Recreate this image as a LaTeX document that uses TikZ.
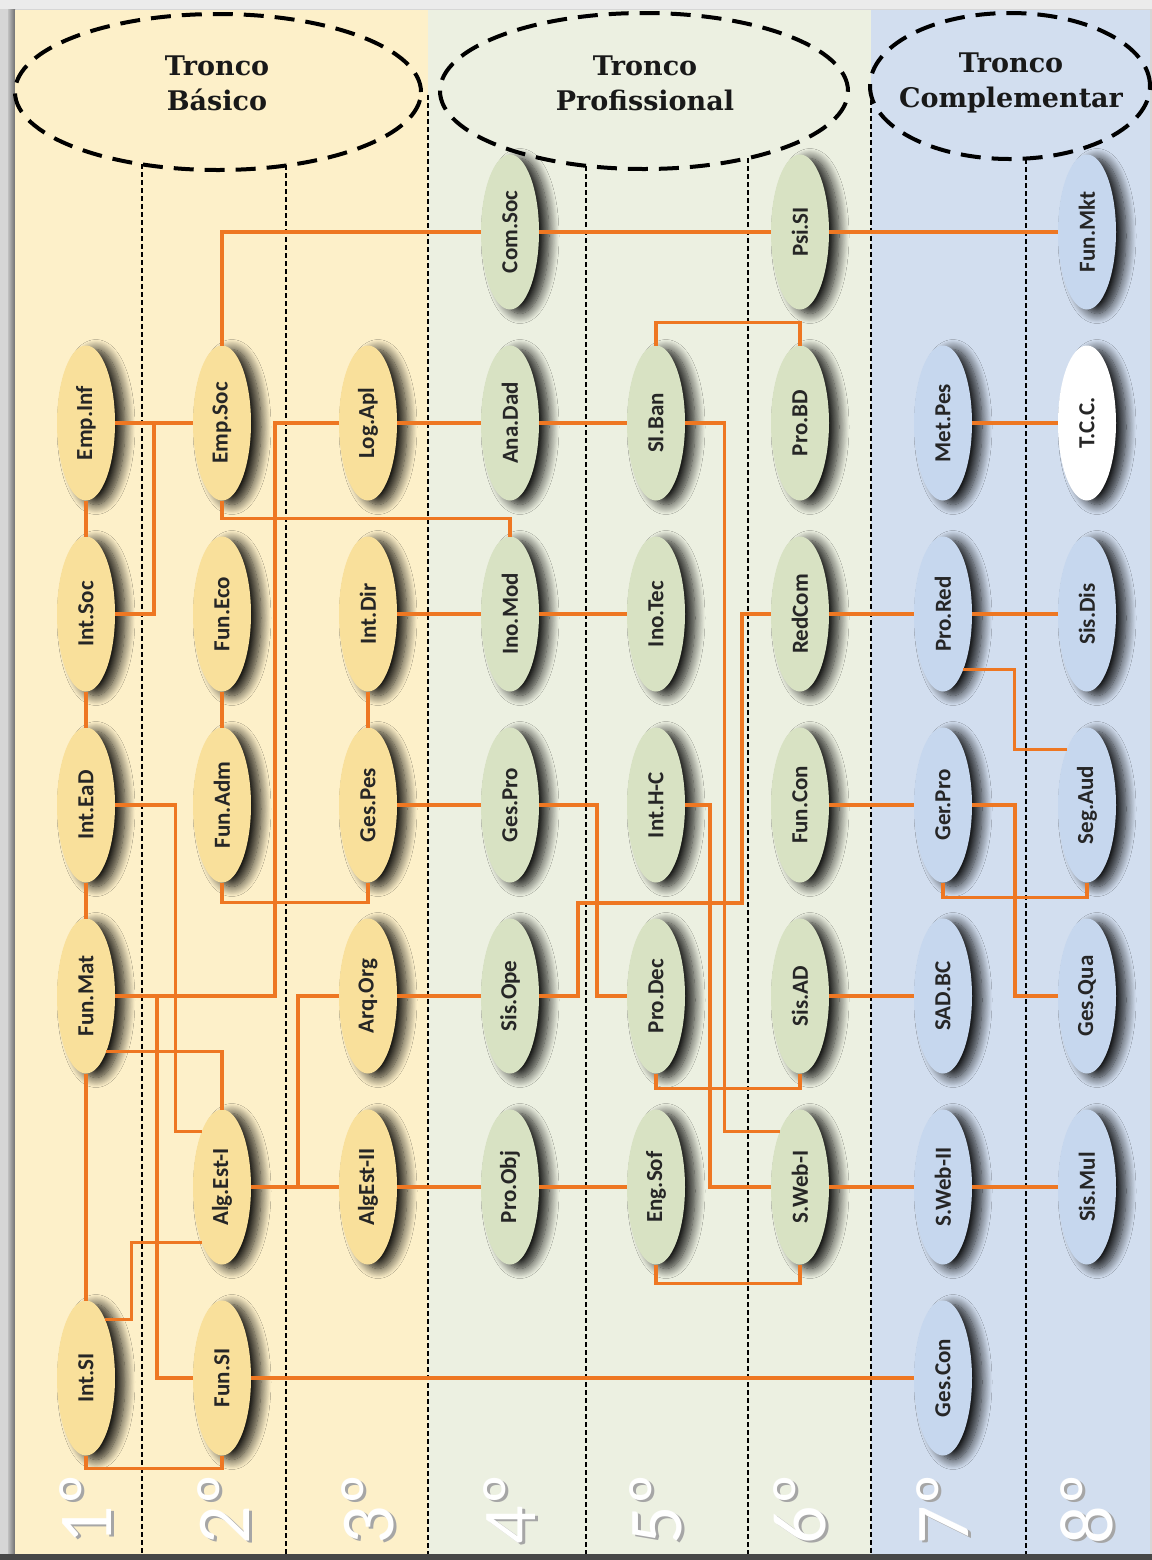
\documentclass[tikz,border=0pt]{standalone}
\usepackage{fontspec}
\setmainfont{Carlito}
\newfontfamily\hdrfont{DejaVu Serif}
\usetikzlibrary{shapes.geometric,calc,shadows.blur}
\definecolor{bandY}{HTML}{FDF0C9}
\definecolor{bandG}{HTML}{ECF0E1}
\definecolor{bandB}{HTML}{D2DEEF}
\definecolor{nodeY}{HTML}{F9E09B}
\definecolor{nodeG}{HTML}{D8E2C3}
\definecolor{nodeB}{HTML}{C6D7EE}
\definecolor{lineO}{HTML}{EE7722}
\definecolor{frameL}{HTML}{D6D6D6}
\definecolor{frameD}{HTML}{6E6E6E}
\newcommand\vt[1]{\rotatebox{90}{#1}}
\tikzset{
  course/.style={ellipse, minimum width=29pt, minimum height=77.5pt, inner sep=0pt, outer sep=0pt,
    font=\bfseries\fontsize{11.5}{11.5}\selectfont, text=black!85,
    blur shadow={shadow xshift=5pt, shadow yshift=-2pt, shadow opacity=90, shadow blur radius=5pt, shadow blur steps=12}},
  basic/.style={course, fill=nodeY},
  prof/.style={course, fill=nodeG},
  comp/.style={course, fill=nodeB},
  conn/.style={draw=lineO, line width=1.7pt},
  sep/.style={draw=black, line width=0.6pt, dash pattern=on 2.5pt off 1.5pt},
  hdr/.style={ellipse, draw=black, line width=2pt, dash pattern=on 10pt off 5.5pt, inner sep=0pt},
  hdrtext/.style={font=\hdrfont\bfseries\fontsize{13.5}{17.5}\selectfont, align=center, text=black!90},
  deg/.style={font=\fontsize{38}{38}\selectfont, rotate=90, inner sep=0pt},
}
\begin{document}
\begin{tikzpicture}[x=0.5pt,y=-0.5pt]
\useasboundingbox (0,0) rectangle (1152,1560);
% frame
\fill[frameL] (0,0) rectangle (1152,1560);
\fill[black!8] (0,0) rectangle (1152,9);
\shade[left color=black!25, right color=frameD] (8,9) rectangle (15,1560);
\fill[bandY] (15,10) rectangle (428,1554);
\fill[bandG] (428,10) rectangle (871,1554);
\fill[bandB] (871,10) rectangle (1150,1554);
\fill[black!72] (0,1554) rectangle (1152,1560);
% separators
\draw[sep] (142,164) -- (142,1554);
\draw[sep] (286,165) -- (286,1554);
\draw[sep] (428,95) -- (428,1554);
\draw[sep] (586,166) -- (586,1554);
\draw[sep] (748,158) -- (748,1554);
\draw[sep] (871,100) -- (871,1554);
\draw[sep] (1026,159) -- (1026,1554);
% headers
\node[hdr, minimum width=203pt, minimum height=78pt] (hB) at (218,92) {};
\node[hdr, minimum width=204pt, minimum height=78pt] (hP) at (644,91) {};
\node[hdr, minimum width=140pt, minimum height=73pt] (hC) at (1010,86) {};
\node[hdrtext] (tB) at (217,83) {Tronco\\Básico};
\node[hdrtext] (tP) at (645,83) {Tronco\\Profissional};
\node[hdrtext] (tC) at (1011,83) {Tronco\\Complementar};
% semester labels
\foreach \n/\x in {1/86,2/224,3/368,4/510,5/656,6/800,7/943,8/1087}{
  \node[deg, text=black!35] (ds\n) at (\x+3,1511) {\n º};
  \node[deg, text=white] (d\n) at (\x,1509) {\n º};
}
% nodes: Tronco Basico
\node[basic] (EmpInf) at (86,423) {\vt{Emp.Inf}};
\node[basic] (IntSoc) at (86,614) {\vt{Int.Soc}};
\node[basic] (IntEaD) at (86,805) {\vt{Int.EaD}};
\node[basic] (FunMat) at (86,996) {\vt{Fun.Mat}};
\node[basic] (IntSI) at (86,1378) {\vt{Int.SI}};
\node[basic] (EmpSoc) at (222,423) {\vt{Emp.Soc}};
\node[basic] (FunEco) at (222,614) {\vt{Fun.Eco}};
\node[basic] (FunAdm) at (222,805) {\vt{Fun.Adm}};
\node[basic] (AlgEstI) at (222,1187) {\vt{Alg.Est-I}};
\node[basic] (FunSI) at (222,1378) {\vt{Fun.SI}};
\node[basic] (LogApl) at (368,423) {\vt{Log.Apl}};
\node[basic] (IntDir) at (368,614) {\vt{Int.Dir}};
\node[basic] (GesPes) at (368,805) {\vt{Ges.Pes}};
\node[basic] (ArqOrg) at (368,996) {\vt{Arq.Org}};
\node[basic] (AlgEstII) at (368,1187) {\vt{AlgEst-II}};
% Tronco Profissional
\node[prof] (ComSoc) at (510,232) {\vt{Com.Soc}};
\node[prof] (AnaDad) at (510,423) {\vt{Ana.Dad}};
\node[prof] (InoMod) at (510,614) {\vt{Ino.Mod}};
\node[prof] (GesPro) at (510,805) {\vt{Ges.Pro}};
\node[prof] (SisOpe) at (510,996) {\vt{Sis.Ope}};
\node[prof] (ProObj) at (510,1187) {\vt{Pro.Obj}};
\node[prof] (SIBan) at (656,423) {\vt{SI.Ban}};
\node[prof] (InoTec) at (656,614) {\vt{Ino.Tec}};
\node[prof] (IntHC) at (656,805) {\vt{Int.H-C}};
\node[prof] (ProDec) at (656,996) {\vt{Pro.Dec}};
\node[prof] (EngSof) at (656,1187) {\vt{Eng.Sof}};
\node[prof] (PsiSI) at (800,232) {\vt{Psi.SI}};
\node[prof] (ProBD) at (800,423) {\vt{Pro.BD}};
\node[prof] (RedCom) at (800,614) {\vt{RedCom}};
\node[prof] (FunCon) at (800,805) {\vt{Fun.Con}};
\node[prof] (SisAD) at (800,996) {\vt{Sis.AD}};
\node[prof] (SWebI) at (800,1187) {\vt{S.Web-I}};
% Tronco Complementar
\node[comp] (MetPes) at (943,423) {\vt{Met.Pes}};
\node[comp] (ProRed) at (943,614) {\vt{Pro.Red}};
\node[comp] (GerPro) at (943,805) {\vt{Ger.Pro}};
\node[comp] (SADBC) at (943,996) {\vt{SAD.BC}};
\node[comp] (SWebII) at (943,1187) {\vt{S.Web-II}};
\node[comp] (GesCon) at (943,1378) {\vt{Ges.Con}};
\node[comp] (FunMkt) at (1087,232) {\vt{Fun.Mkt}};
\node[comp, fill=white] (TCC) at (1087,423) {\vt{T.C.C.}};
\node[comp] (SisDis) at (1087,614) {\vt{Sis.Dis}};
\node[comp] (SegAud) at (1087,805) {\vt{Seg.Aud}};
\node[comp] (GesQua) at (1087,996) {\vt{Ges.Qua}};
\node[comp] (SisMul) at (1087,1187) {\vt{Sis.Mul}};
% connectors
\draw[conn] (EmpSoc.north) |- (ComSoc.west);
\draw[conn] (ComSoc.east) -- (PsiSI.west);
\draw[conn] (PsiSI.east) -- (FunMkt.west);
\draw[conn] (EmpInf.east) -- (EmpSoc.west);
\draw[conn] (IntSoc.east) -| ($(EmpInf.east)!.5!(EmpSoc.west)$);
\draw[conn] (EmpSoc.south) -- ++(0,18) -| (InoMod.north);
\draw[conn] (LogApl.west) -| (275,996) -- (FunMat.east);
\draw[conn] (LogApl.east) -- (AnaDad.west);
\draw[conn] (AnaDad.east) -- (SIBan.west);
\draw[conn] (SIBan.east) -| ($(SWebI.110)+(-55,0)$) -- (SWebI.110);
\draw[conn] (SIBan.north) -- ++(0,-23) -| (ProBD.north);
\draw[conn] (IntDir.east) -- (InoMod.west);
\draw[conn] (InoMod.east) -- (InoTec.west);
\draw[conn] (EmpInf.south) -- (IntSoc.north);
\draw[conn] (IntSoc.south) -- (IntEaD.north);
\draw[conn] (IntEaD.south) -- (FunMat.north);
\draw[conn] (FunMat.south) -- (IntSI.north);
\draw[conn] (FunEco.south) -- (FunAdm.north);
\draw[conn] (IntDir.south) -- (GesPes.north);
\draw[conn] (FunAdm.south) -- ++(0,20) -| (GesPes.south);
\draw[conn] (IntEaD.east) -| ($(AlgEstI.110)+(-26,0)$) -- (AlgEstI.110);
\draw[conn] (GesPes.east) -- (GesPro.west);
\draw[conn] (GesPro.east) -| (597,996) -- (ProDec.west);
\draw[conn] (IntHC.east) -| (710,1187) -- (SWebI.west);
\draw[conn] (ProDec.south) -- ++(0,15) -| (SisAD.south);
\draw[conn] (EngSof.south) -- ++(0,19) -| (SWebI.south);
\draw[conn] (SisOpe.east) -| (578,903) -| (742,614) -- (RedCom.west);
\draw[conn] (RedCom.east) -- (ProRed.west);
\draw[conn] (ProRed.east) -- (SisDis.west);
\draw[conn] (ProRed.-70) -| ($(SegAud.110)+(-52,0)$) -- (SegAud.110);
\draw[conn] (FunCon.east) -- (GerPro.west);
\draw[conn] (GerPro.east) -| (1015,996) -- (GesQua.west);
\draw[conn] (GerPro.south) -- ++(0,15) -| (SegAud.south);
\draw[conn] (ArqOrg.west) -| (298,1187);
\draw[conn] (AlgEstI.east) -- (AlgEstII.west);
\draw[conn] (ArqOrg.east) -- (SisOpe.west);
\draw[conn] (SisAD.east) -- (SADBC.west);
\draw[conn] (AlgEstII.east) -- (ProObj.west);
\draw[conn] (ProObj.east) -- (EngSof.west);
\draw[conn] (SWebI.east) -- (SWebII.west);
\draw[conn] (SWebII.east) -- (SisMul.west);
\draw[conn] (MetPes.east) -- (TCC.west);
\draw[conn] (FunSI.west) -| (157,996);
\draw[conn] (FunMat.-70) -| (AlgEstI.north);
\draw[conn] (IntSI.72) -| ($(AlgEstI.250)+(-70,0)$) -- (AlgEstI.250);
\draw[conn] (IntSI.south) -- ++(0,13) -| (FunSI.south);
\draw[conn] (FunSI.east) -- (GesCon.west);
\end{tikzpicture}
\end{document}
